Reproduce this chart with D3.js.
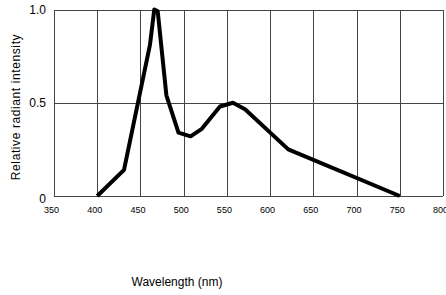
<!DOCTYPE html>
<html>
<head>
<meta charset="utf-8">
<script src="https://cdn.jsdelivr.net/npm/d3@7"></script>
<style>
  body { margin: 0; background: #fff; }
  svg { display: block; font-family: "Liberation Sans", Arial, sans-serif; }
  .grid line { stroke: #444; stroke-width: 1; shape-rendering: crispEdges; }
  .axis path, .axis line { display: none; }
</style>
</head>
<body>
<script>
// data
var wavelengths = [400, 431, 461, 466, 470, 480, 494, 508, 521, 542, 557, 571, 621, 750];
var intensity   = [0, 0.14, 0.81, 1.0, 0.99, 0.54, 0.34, 0.32, 0.36, 0.48, 0.50, 0.465, 0.25, 0];
var xTicks = [350, 400, 450, 500, 550, 600, 650, 700, 750, 800];
var yTicks = [0, 0.5, 1.0];
var yTickLabels = ['0', '0.5', '1.0'];

var w = 446, h = 295;
var plot = { left: 54, right: 443, top: 9.5, bottom: 196 };

var svg = d3.select('body').append('svg')
  .attr('width', w)
  .attr('height', h);

var x = d3.scaleLinear().domain([350, 800]).range([plot.left, plot.right]);
var y = d3.scaleLinear().domain([0, 1]).range([plot.bottom, plot.top]);

// grid
var grid = svg.append('g').attr('class', 'grid');
grid.selectAll('.v')
  .data(xTicks)
  .enter().append('line')
    .attr('x1', function(d) { return Math.round(x(d)) + 0.5; })
    .attr('x2', function(d) { return Math.round(x(d)) + 0.5; })
    .attr('y1', y(1))
    .attr('y2', y(0));
grid.selectAll('.h')
  .data(yTicks)
  .enter().append('line')
    .attr('x1', x(350))
    .attr('x2', x(800))
    .attr('y1', function(d) { return Math.round(y(d)) + 0.5; })
    .attr('y2', function(d) { return Math.round(y(d)) + 0.5; });

// axes
var xAxis = d3.axisBottom(x).tickValues(xTicks).tickSize(0).tickPadding(0).tickFormat(d3.format('d'));
svg.append('g')
  .attr('class', 'axis x')
  .attr('transform', 'translate(0,' + (plot.bottom + 11) + ')')
  .call(xAxis)
  .selectAll('text')
    .attr('dx', -3)
    .style('font-size', '9px')
    .style('font-family', '"Liberation Sans", Arial, sans-serif')
    .attr('fill', '#000');

var yAxis = d3.axisLeft(y).tickValues(yTicks).tickSize(0).tickPadding(8)
  .tickFormat(function(d, i) { return yTickLabels[i]; });
svg.append('g')
  .attr('class', 'axis y')
  .attr('transform', 'translate(' + plot.left + ',0)')
  .call(yAxis)
  .selectAll('text')
    .attr('dy', function(d) { return d === 0 ? '0.55em' : '0.32em'; })
    .style('font-size', '12px')
    .style('font-family', '"Liberation Sans", Arial, sans-serif')
    .attr('fill', '#000');

// the curve
var pts = wavelengths.map(function(d, i) { return [d, intensity[i]]; });
var line = d3.line()
  .x(function(d) { return x(d[0]); })
  .y(function(d) { return y(d[1]); });

svg.append('path')
  .datum(pts)
  .attr('d', line)
  .attr('fill', 'none')
  .attr('stroke', '#000')
  .attr('stroke-width', 4)
  .attr('stroke-linejoin', 'round');

// titles
svg.append('text')
  .attr('transform', 'translate(20,' + 107 + ') rotate(-90)')
  .attr('text-anchor', 'middle')
  .style('font-size', '12px')
  .style('letter-spacing', '0.6px')
  .text('Relative radiant intensity');

svg.append('text')
  .attr('x', 177)
  .attr('y', 286)
  .attr('text-anchor', 'middle')
  .style('font-size', '12px')
  .text('Wavelength (nm)');
</script>
</body>
</html>
